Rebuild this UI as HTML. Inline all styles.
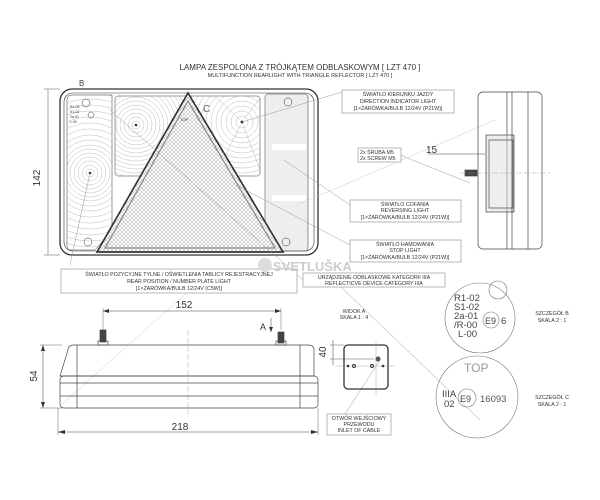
<!DOCTYPE html>
<html><head><meta charset="utf-8"><style>
html,body{margin:0;padding:0;background:#fff;}
svg{display:block;font-family:"Liberation Sans",sans-serif;}
</style></head><body>
<svg width="600" height="500" viewBox="0 0 600 500" xmlns="http://www.w3.org/2000/svg">
<rect width="600" height="500" fill="#fff"/>
<defs>
<pattern id="hex" width="4" height="4" patternUnits="userSpaceOnUse"><path d="M0 2L2 0L4 2L2 4Z" fill="none" stroke="#888" stroke-width="0.4"/></pattern>
<pattern id="vl" width="2" height="4" patternUnits="userSpaceOnUse"><line x1="1" y1="0" x2="1" y2="4" stroke="#bbb" stroke-width="0.5"/></pattern>
<clipPath id="tp"><rect x="115" y="96" width="145" height="80" rx="3"/></clipPath>
<clipPath id="lp"><path d="M67 100 Q67 95 72 95 L112 95 L112 230 L95 250 L70 250 Q67 250 67 245Z"/></clipPath>
</defs>
<text x="300" y="70" font-size="8" text-anchor="middle" fill="#333">LAMPA ZESPOLONA Z TRÓJKĄTEM ODBLASKOWYM [ LZT 470 ]</text>
<text x="300" y="77" font-size="5.5" text-anchor="middle" fill="#333">MULTIFUNCTION REARLIGHT WITH TRIANGLE REFLECTOR [ LZT 470 ]</text>
<text x="79" y="86" font-size="8" fill="#444">B</text>
<text x="203" y="112" font-size="10" fill="#555">C</text>
<g fill="none" stroke="#333">
<rect x="60" y="89" width="258" height="166" rx="12" stroke-width="1.3"/>
<rect x="64" y="93" width="250" height="158" rx="9" stroke-width="0.6"/>
<path d="M67 100 Q67 95 72 95 L112 95 L112 230 L95 250 L70 250 Q67 250 67 245Z" stroke-width="0.5"/>
<g clip-path="url(#lp)" stroke="#aaa" stroke-width="0.4">
<circle cx="90" cy="173" r="4"/><circle cx="90" cy="173" r="8"/><circle cx="90" cy="173" r="12"/><circle cx="90" cy="173" r="16"/><circle cx="90" cy="173" r="20"/><circle cx="90" cy="173" r="24"/><circle cx="90" cy="173" r="28"/><circle cx="90" cy="173" r="33"/><circle cx="90" cy="173" r="38"/><circle cx="90" cy="173" r="44"/><circle cx="90" cy="173" r="50"/><circle cx="90" cy="173" r="56"/><circle cx="90" cy="173" r="62"/><circle cx="90" cy="173" r="68"/><circle cx="90" cy="173" r="74"/><circle cx="90" cy="173" r="80"/>
</g>
<rect x="115" y="96" width="145" height="80" rx="3" stroke-width="0.5"/>
<g clip-path="url(#tp)" stroke="#aaa" stroke-width="0.4">
<circle cx="136" cy="125" r="4"/><circle cx="136" cy="125" r="8"/><circle cx="136" cy="125" r="12"/><circle cx="136" cy="125" r="16"/><circle cx="136" cy="125" r="20"/><circle cx="136" cy="125" r="24"/><circle cx="136" cy="125" r="28"/><circle cx="136" cy="125" r="32"/><circle cx="136" cy="125" r="36"/><circle cx="136" cy="125" r="40"/><circle cx="136" cy="125" r="44"/><circle cx="136" cy="125" r="48"/><circle cx="136" cy="125" r="52"/>
<circle cx="242" cy="122" r="6"/><circle cx="242" cy="122" r="11"/><circle cx="242" cy="122" r="16"/><circle cx="242" cy="122" r="21"/><circle cx="242" cy="122" r="26"/><circle cx="242" cy="122" r="31"/><circle cx="242" cy="122" r="36"/><circle cx="242" cy="122" r="41"/><circle cx="242" cy="122" r="46"/><circle cx="242" cy="122" r="51"/><circle cx="242" cy="122" r="56"/>
<line x1="242" y1="122" x2="215" y2="96"/><line x1="242" y1="122" x2="260" y2="98"/><line x1="242" y1="122" x2="215" y2="176"/><line x1="242" y1="122" x2="260" y2="170"/>
</g>
<rect x="265" y="94" width="43" height="157" rx="3" stroke-width="0.5" fill="url(#vl)"/>
<path d="M188 93 L97 252 L283 252 Z" stroke-width="1.5" fill="#fff"/>
<path d="M188 93 L97 252 L283 252 Z" stroke-width="1.5" fill="url(#hex)"/>
<path d="M188 101 L105 248 L275 248 Z" stroke="#888" stroke-width="1.2"/>
<circle cx="86" cy="103" r="4" stroke-width="0.5"/><circle cx="288" cy="102" r="4" stroke-width="0.5"/>
<circle cx="88" cy="242" r="4" stroke-width="0.5"/><circle cx="286" cy="242" r="4" stroke-width="0.5"/>
<circle cx="91" cy="115" r="3" stroke-width="0.5"/>
</g>
<text x="70" y="108" font-size="3.5" fill="#333">R1-02</text><text x="70" y="113" font-size="3.5" fill="#333">S1-02</text><text x="70" y="118" font-size="3.5" fill="#333">2a-01</text><text x="70" y="123" font-size="3.5" fill="#333">L-00</text>
<text x="180" y="121" font-size="4" fill="#333">TOP</text>
<rect x="272" y="144" width="34" height="6" fill="#fff"/><rect x="272" y="195" width="34" height="6" fill="#fff"/>
<circle cx="242" cy="122" r="3" fill="#fff"/><circle cx="242" cy="122" r="1.5" fill="#333"/>
<circle cx="136" cy="125" r="1.3" fill="#333"/><circle cx="90" cy="173" r="1.3" fill="#333"/>
<g stroke="#999" stroke-width="0.5" fill="none">
<line x1="242" y1="122" x2="342" y2="92"/>
<line x1="284" y1="160" x2="350" y2="205"/>
<line x1="236" y1="185" x2="350" y2="245"/>
<line x1="90" y1="173" x2="70" y2="265"/>
<line x1="110" y1="110" x2="303" y2="280"/>
<line x1="400" y1="155" x2="470" y2="183"/>
<line x1="340" y1="286" x2="480" y2="420"/>
<line x1="60" y1="406" x2="190" y2="290" stroke="#ccc"/>
<line x1="380" y1="360" x2="345" y2="414"/>
<line x1="297" y1="205" x2="495" y2="120" stroke="#ccc"/>
</g>
<g fill="#fff" stroke="#888" stroke-width="0.6">
<rect x="342" y="90" width="112" height="23"/>
<rect x="358" y="148" width="43" height="14"/>
<rect x="350" y="200" width="111" height="22"/>
<rect x="350" y="240" width="111" height="22"/>
<rect x="303" y="273" width="142" height="14"/>
<rect x="61" y="269" width="236" height="24"/>
<rect x="327" y="414" width="64" height="21"/>
</g>
<g font-size="5.3" fill="#333" text-anchor="middle">
<text x="398" y="96">ŚWIATŁO KIERUNKU JAZDY</text><text x="398" y="103">DIRECTION INDICATOR LIGHT</text><text x="398" y="110">[1×ŻARÓWKA/BULB 12/24V (P21W)]</text>
<text x="405" y="206">ŚWIATŁO COFANIA</text><text x="405" y="212">REVERSING LIGHT</text><text x="405" y="219">[1×ŻARÓWKA/BULB 12/24V (P21W)]</text>
<text x="405" y="246">ŚWIATŁO HAMOWANIA</text><text x="405" y="252">STOP LIGHT</text><text x="405" y="259">[1×ŻARÓWKA/BULB 12/24V (P21W)]</text>
<text x="374" y="279">URZĄDZENIE ODBLASKOWE KATEGORII IIIA</text><text x="374" y="285">REFLECTICVE DEVICE CATEGORY IIIA</text>
<text x="179" y="276">ŚWIATŁO POZYCYJNE TYLNE / OŚWIETLENIA TABLICY REJESTRACYJNEJ</text><text x="179" y="283">REAR POSITION / NUMBER PLATE LIGHT</text><text x="179" y="290">[1×ŻARÓWKA/BULB 12/24V (C5W)]</text>
<text x="359" y="420">OTWÓR WEJŚCIOWY</text><text x="359" y="426">PRZEWODU</text><text x="359" y="432">INLET OF CABLE</text>
<text x="354" y="313">WIDOK A</text><text x="354" y="319">SKALA 1 : 4</text>
<text x="552" y="315">SZCZEGÓŁ B</text><text x="552" y="322">SKALA 2 : 1</text>
<text x="552" y="399">SZCZEGÓŁ C</text><text x="552" y="406">SKALA 2 : 1</text>
</g>
<text x="360" y="154" font-size="5.3" fill="#333">2x ŚRUBA M5</text><text x="360" y="160" font-size="5.3" fill="#333">2x SCREW M5</text>
<circle cx="265" cy="265" r="7" fill="#ddd"/>
<text x="273" y="271" font-size="13" font-weight="bold" fill="#ccc">SVETLUŠKA</text>
<g stroke="#555" stroke-width="0.5"><line x1="48" y1="89" x2="48" y2="255"/><line x1="44" y1="89" x2="60" y2="89"/><line x1="44" y1="255" x2="60" y2="255"/></g>
<text x="40" y="178" font-size="10" fill="#333" transform="rotate(-90 40 178)" text-anchor="middle">142</text>
<g fill="none" stroke="#444" stroke-width="0.7">
<rect x="478" y="92" width="64" height="157" rx="5"/>
<line x1="507" y1="92" x2="507" y2="249"/><line x1="512" y1="92" x2="512" y2="249"/>
<line x1="528" y1="92" x2="528" y2="249"/>
<rect x="486" y="135" width="28" height="77" fill="url(#vl)"/>
<rect x="489" y="140" width="24" height="68"/>
<line x1="428" y1="154" x2="485" y2="154" stroke-width="0.5"/>
<rect x="465" y="170" width="12" height="6" fill="#444"/>
<line x1="460" y1="173" x2="550" y2="173" stroke="#999" stroke-width="0.4" stroke-dasharray="6,2"/>
</g>
<text x="426" y="153" font-size="10" fill="#333">15</text>
<g fill="none" stroke="#444" stroke-width="0.7">
<path d="M68 350 Q68 345 74 345 L308 345 Q314 345 314 350 L314 376 L60 376Z"/>
<rect x="60" y="376" width="258" height="32" rx="4"/>
<line x1="60" y1="383" x2="318" y2="383"/><line x1="60" y1="396" x2="318" y2="396"/>
<line x1="77" y1="345" x2="77" y2="408"/><line x1="300" y1="345" x2="300" y2="408"/>
<line x1="188" y1="330" x2="188" y2="415" stroke="#999" stroke-dasharray="6,2" stroke-width="0.4"/>
<rect x="100" y="330" width="6" height="12" fill="#444"/><rect x="278" y="332" width="6" height="11" fill="#444"/>
<rect x="98" y="341" width="10" height="4"/><rect x="276" y="341" width="10" height="4"/>
<line x1="103" y1="311" x2="281" y2="311" stroke-width="0.5"/>
<line x1="103" y1="308" x2="103" y2="330" stroke-width="0.4"/><line x1="281" y1="308" x2="281" y2="330" stroke-width="0.4"/>
<line x1="58" y1="432" x2="318" y2="432" stroke-width="0.5"/>
<line x1="58" y1="408" x2="58" y2="435" stroke-width="0.4"/><line x1="318" y1="408" x2="318" y2="435" stroke-width="0.4"/>
<line x1="43" y1="345" x2="43" y2="408" stroke-width="0.5"/>
<line x1="40" y1="345" x2="62" y2="345" stroke-width="0.4"/><line x1="40" y1="408" x2="62" y2="408" stroke-width="0.4"/>
<line x1="271" y1="318" x2="271" y2="332" stroke-width="0.5"/>
</g>
<g fill="#333"><path d="M103 311l6-2v4z"/><path d="M281 311l-6-2v4z"/><path d="M58 432l7-2v4z"/><path d="M318 432l-7-2v4z"/><path d="M43 345l-2 6h4z"/><path d="M43 408l-2-6h4z"/><path d="M271 332l-2-5h4z"/></g>
<text x="184" y="308" font-size="10" fill="#333" text-anchor="middle">152</text>
<text x="180" y="430" font-size="10" fill="#333" text-anchor="middle">218</text>
<text x="37" y="376" font-size="10" fill="#333" transform="rotate(-90 37 376)" text-anchor="middle">54</text>
<text x="260" y="330" font-size="9" fill="#333">A</text>
<g fill="none" stroke="#333">
<rect x="344" y="345" width="44" height="44" rx="4" stroke-width="1.3"/>
<line x1="335" y1="366" x2="395" y2="366" stroke="#999" stroke-width="0.4"/>
<line x1="376" y1="342" x2="376" y2="395" stroke="#999" stroke-width="0.4"/>
<line x1="330" y1="345" x2="344" y2="345" stroke-width="0.4"/><line x1="330" y1="359" x2="374" y2="359" stroke-width="0.4"/>
<line x1="333" y1="340" x2="333" y2="365" stroke-width="0.5"/>
<circle cx="354" cy="366" r="1.5"/><circle cx="372" cy="366" r="1.5"/>
</g>
<circle cx="378" cy="359" r="2.5" fill="#555"/><circle cx="348" cy="366" r="1.3" fill="#333"/><circle cx="383" cy="366" r="1.3" fill="#333"/>
<text x="326" y="352" font-size="10" fill="#333" transform="rotate(-90 326 352)" text-anchor="middle">40</text>
<g fill="none" stroke="#777" stroke-width="0.6">
<circle cx="480" cy="318" r="35"/>
<circle cx="477" cy="397" r="41"/>
<circle cx="491" cy="320" r="8"/>
<circle cx="467" cy="398" r="9"/>
<circle cx="498" cy="290" r="9"/>
</g>
<g font-size="9.5" fill="#444">
<text x="454" y="301">R1-02</text><text x="454" y="310">S1-02</text><text x="454" y="319">2a-01</text><text x="454" y="328">/R-00</text><text x="458" y="337">L-00</text>
<text x="485" y="324" font-size="9">E9</text><text x="501" y="324">6</text>
<text x="464" y="372" font-size="12" fill="#999">TOP</text>
<text x="442" y="397">IIIA</text><text x="444" y="407">02</text>
<text x="460" y="402" font-size="9">E9</text><text x="480" y="402" fill="#555">16093</text>
</g>
</svg>
</body></html>
